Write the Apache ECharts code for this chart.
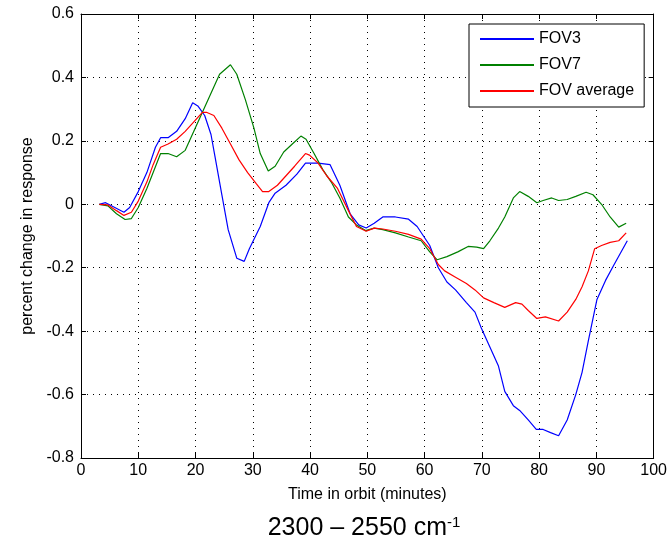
<!DOCTYPE html>
<html>
<head>
    <meta charset="utf-8">
    <title>percent change in response</title>
    <script src="https://cdnjs.cloudflare.com/ajax/libs/echarts/6.0.0/echarts.min.js"></script>
    <style>
        html, body { margin: 0; padding: 0; background: #fff; }
        #chart { width: 670px; height: 542px; }
    </style>
</head>
<body>
<div id="chart"></div>
<script>
    // values (time in minutes, percent change)
    var fov3Time = [3.2, 4.3, 7.5, 8.5, 10, 11.5, 13, 13.9, 15.2, 16.7, 18.2, 19.5, 20.4, 21.6, 22.7, 23.4, 24.6, 25.7, 27.2, 28.5, 29.4, 31.3, 32.8, 33.9, 35.8, 37.7, 39.2, 41.4, 43.5, 45.2, 47, 48.5, 49.8, 51.2, 52.7, 54.9, 57.2, 58.7, 59.8, 60.9, 62.4, 63.9, 65.4, 67.3, 68.8, 69.9, 71.4, 72.9, 74, 75.5, 76.6, 78.1, 79.5, 80.7, 82, 83.4, 84.9, 86.4, 87.5, 88.6, 90.1, 91.6, 93.1, 95.4];
    var fov3 = [0, 0.005, -0.025, -0.01, 0.04, 0.1, 0.18, 0.21, 0.21, 0.23, 0.27, 0.32, 0.31, 0.28, 0.22, 0.15, 0.03, -0.08, -0.17, -0.18, -0.14, -0.07, 0.005, 0.035, 0.06, 0.095, 0.13, 0.13, 0.125, 0.06, -0.03, -0.065, -0.075, -0.06, -0.04, -0.04, -0.047, -0.07, -0.1, -0.13, -0.2, -0.245, -0.27, -0.31, -0.34, -0.39, -0.45, -0.51, -0.59, -0.635, -0.65, -0.68, -0.71, -0.71, -0.72, -0.73, -0.68, -0.6, -0.53, -0.43, -0.3, -0.24, -0.19, -0.115];

    var fov7Time = [3.2, 4.7, 6.2, 7.7, 8.8, 10, 11.5, 12.6, 13.9, 15.2, 16.7, 18.2, 19.7, 21.2, 22.7, 24.2, 26.1, 27.2, 28.7, 30.2, 31.3, 32.7, 33.9, 35.4, 36.9, 38.4, 39.3, 40.7, 42.2, 43.7, 45.2, 46.7, 48.1, 49.7, 51.2, 52.7, 54.9, 57.2, 59.4, 60.9, 62.2, 63.9, 65.8, 67.6, 69.1, 70.3, 71.4, 72.9, 74, 75.5, 76.6, 78.1, 79.6, 80.7, 82.2, 83.4, 84.9, 86.4, 88.2, 89.4, 90.9, 92.4, 93.9, 95.2];
    var fov7 = [0, -0.005, -0.03, -0.048, -0.045, -0.01, 0.05, 0.1, 0.16, 0.16, 0.15, 0.17, 0.23, 0.29, 0.35, 0.41, 0.44, 0.41, 0.33, 0.24, 0.16, 0.105, 0.12, 0.165, 0.19, 0.215, 0.205, 0.16, 0.11, 0.07, 0.02, -0.04, -0.065, -0.083, -0.075, -0.08, -0.09, -0.103, -0.115, -0.15, -0.175, -0.165, -0.15, -0.133, -0.135, -0.14, -0.115, -0.075, -0.04, 0.02, 0.04, 0.025, 0.005, 0.012, 0.02, 0.012, 0.015, 0.025, 0.038, 0.03, 0, -0.04, -0.072, -0.06];

    var avgTime = [3.2, 4.7, 6.2, 7.5, 8.8, 10, 11.5, 12.6, 13.9, 15.2, 16.7, 18.2, 19.7, 21.2, 21.9, 23.2, 24.6, 26.1, 27.6, 29.1, 30.6, 31.7, 32.8, 34.3, 35.8, 37.3, 39.2, 39.9, 41.4, 42.9, 44.8, 46.7, 48.1, 49.8, 51.2, 52.7, 54.9, 57.2, 59.4, 60.9, 62.4, 63.5, 65.4, 67.3, 68.8, 70.3, 72.1, 74, 75.9, 77, 78.1, 79.6, 81.1, 83.4, 84.9, 86.4, 87.5, 88.6, 89.7, 90.9, 92.4, 93.9, 95.2];
    var fovAvg = [0, -0.002, -0.02, -0.035, -0.025, 0.01, 0.07, 0.125, 0.18, 0.19, 0.205, 0.23, 0.26, 0.29, 0.29, 0.28, 0.24, 0.19, 0.14, 0.1, 0.065, 0.04, 0.04, 0.06, 0.09, 0.12, 0.16, 0.155, 0.13, 0.09, 0.05, -0.02, -0.07, -0.085, -0.075, -0.078, -0.085, -0.095, -0.11, -0.14, -0.19, -0.21, -0.23, -0.25, -0.27, -0.295, -0.31, -0.325, -0.31, -0.315, -0.335, -0.36, -0.355, -0.368, -0.34, -0.3, -0.26, -0.21, -0.14, -0.13, -0.12, -0.115, -0.09];

    function pairs(xs, ys) {
        var out = [];
        for (var i = 0; i < xs.length; i++) {
            out.push([xs[i], ys[i]]);
        }
        return out;
    }

    var font = 'Liberation Sans, Arial, sans-serif';
    var gridLine = { show: true, lineStyle: { color: '#000', type: [1, 5], width: 1 } };
    var blackLine = { show: true, onZero: false, lineStyle: { color: '#000' } };
    var inTick = { inside: true, length: 5, lineStyle: { color: '#000' } };

    var myChart = echarts.init(document.getElementById('chart'));
    var option = {
        animation: false,
        title: {
            text: '{a|2300 – 2550 cm}{s|-1}',
            left: 359,
            textAlign: 'center',
            top: 510,
            textStyle: {
                rich: {
                    a: { fontFamily: font, fontSize: 25, fontWeight: 'normal', color: '#000' },
                    s: { fontFamily: font, fontSize: 15, fontWeight: 'normal', color: '#000', verticalAlign: 'top', padding: [0, 0, 12, 0] }
                }
            }
        },
        legend: {
            left: 469,
            top: 24,
            orient: 'vertical',
            backgroundColor: '#fff',
            borderColor: '#000',
            borderWidth: 1,
            borderRadius: 0,
            padding: [7, 10, 8, 10],
            itemWidth: 54,
            itemHeight: 14,
            itemGap: 10,
            itemStyle: { opacity: 0 },
            textStyle: { fontFamily: font, fontSize: 16, color: '#000' },
            data: ['FOV3', 'FOV7', 'FOV average']
        },
        grid: { left: 81, right: 15, top: 14, bottom: 84 },
        xAxis: [{
            type: 'value',
            min: 0, max: 100, interval: 10,
            name: 'Time in orbit (minutes)',
            nameLocation: 'middle',
            nameGap: 29,
            nameTextStyle: { fontFamily: font, fontSize: 16, color: '#000' },
            axisLine: blackLine,
            axisTick: inTick,
            axisLabel: { fontFamily: font, fontSize: 16, color: '#000', margin: 5 },
            splitLine: gridLine
        }, {
            type: 'value',
            position: 'top',
            min: 0, max: 100, interval: 10,
            axisLine: blackLine,
            axisTick: inTick,
            axisLabel: { show: false },
            splitLine: { show: false }
        }],
        yAxis: [{
            type: 'value',
            min: -0.8, max: 0.6, interval: 0.2,
            name: 'percent change in response',
            nameLocation: 'middle',
            nameGap: 40,
            nameTextStyle: { fontFamily: font, fontSize: 16, color: '#000' },
            axisLine: blackLine,
            axisTick: inTick,
            axisLabel: {
                fontFamily: font, fontSize: 16, color: '#000', margin: 7,
                formatter: function (v) { return v === 0 ? '0' : (+v.toFixed(1)).toString(); }
            },
            splitLine: gridLine
        }, {
            type: 'value',
            position: 'right',
            min: -0.8, max: 0.6, interval: 0.2,
            axisLine: blackLine,
            axisTick: inTick,
            axisLabel: { show: false },
            splitLine: { show: false }
        }],
        series: [{
            name: 'FOV3',
            type: 'line',
            symbol: 'none',
            color: '#0000ff',
            lineStyle: { width: 1.2 },
            data: pairs(fov3Time, fov3)
        }, {
            name: 'FOV7',
            type: 'line',
            symbol: 'none',
            color: '#008000',
            lineStyle: { width: 1.2 },
            data: pairs(fov7Time, fov7)
        }, {
            name: 'FOV average',
            type: 'line',
            symbol: 'none',
            color: '#ff0000',
            lineStyle: { width: 1.2 },
            data: pairs(avgTime, fovAvg)
        }]
    };
    myChart.setOption(option);
</script>
</body>
</html>
